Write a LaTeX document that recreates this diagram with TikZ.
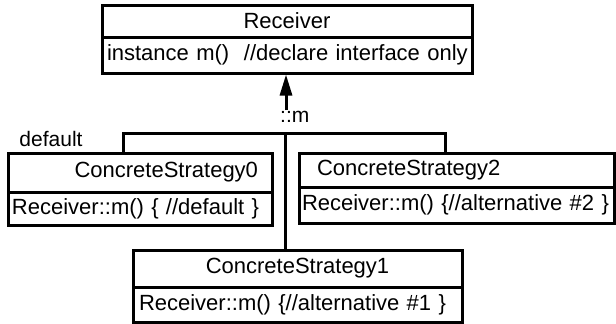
\documentclass[tikz,border=0pt]{standalone}
\usepackage{fontspec}
\setmainfont{Liberation Sans}
\usepackage{tikz}
\usetikzlibrary{shapes, arrows.meta, positioning}

\begin{document}
\begin{tikzpicture}
  [
    x=1pt, y=-1pt,
    Head/.style={rectangle, draw=black, line width=3pt, inner ysep=0pt, align=center, font=\fontsize{22}{24}\selectfont},
    Body/.style={Head, align=left},
    Note/.style={inner sep=0pt, font=\fontsize{21}{23}\selectfont},
    Link/.style={draw, line width=3pt}
  ]
  \useasboundingbox (0,0) rectangle (616,324);

  % Nodes
  \node[Head, text width=360pt, inner xsep=5pt, minimum height=32pt] (recvT) at (287,21) {Receiver};
  \node[Body, text width=360pt, inner xsep=5pt, minimum height=36pt] (recvB) at (287,55) {\mbox{instance m()\ \ //declare interface only}};

  \node[Head, text width=236pt, inner xsep=14pt, minimum height=39pt, align=right] (cs0T) at (140,172.5) {ConcreteStrategy0};
  \node[Body, text width=256pt, inner xsep=4pt, minimum height=33pt] (cs0B) at (140,208.5) {\mbox{Receiver::m() \{ //default \}}};

  \node[Head, text width=279pt, inner xsep=18pt, minimum height=34pt, align=left] (cs2T) at (456.5,170) {ConcreteStrategy2};
  \node[Body, text width=309pt, inner xsep=3pt, minimum height=36pt] (cs2B) at (456.5,205) {\mbox{Receiver::m() \{//alternative \#2 \}}};

  \node[Head, text width=317pt, inner xsep=6pt, minimum height=37pt] (cs1T) at (297.5,268.5) {ConcreteStrategy1};
  \node[Body, text width=317pt, inner xsep=6pt, minimum height=35pt] (cs1B) at (297.5,304.5) {\mbox{Receiver::m() \{//alternative \#1 \}}};

  \node[Note, anchor=west] (mlab) at (280,117) {::m};
  \node[Note] (dflt) at (51,139) {default};

  \coordinate (tail) at (286,110);
  \coordinate (lft) at (123,133);
  \coordinate (rgt) at (445,133);
  \coordinate (fork) at (285,133);

  % Lines
  \path [Link, -{Triangle[length=21pt, width=12pt]}] (tail) -- (tail |- recvB.south);
  \path [Link] (lft |- cs0T.north) -- (lft) -- (rgt) -- (rgt |- cs2T.north);
  \path [Link] (fork) -- (fork |- cs1T.north);

\end{tikzpicture}
\end{document}
